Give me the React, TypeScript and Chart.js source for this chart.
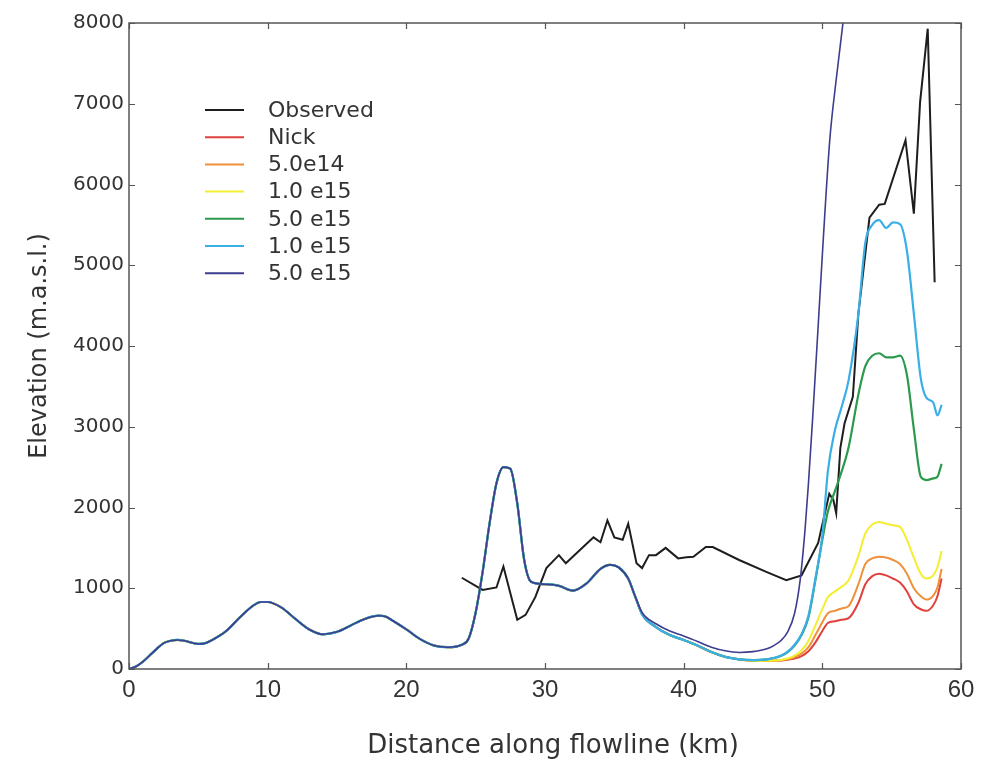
import React, { useEffect, useRef } from "react";
import { Chart, registerables } from "chart.js";

Chart.register(...registerables);

// ---------- labels / styles ----------
const seriesLabels = ["Observed", "Nick", "5.0e14", "1.0 e15", "5.0 e15", "1.0 e15", "5.0 e15"];
const seriesColors = ["#1e1e1e", "#e0403c", "#f0903a", "#f4ee30", "#2b9a4c", "#3aaee6", "#3e3c8e"];
const seriesWidths = [2, 2, 2, 2, 2.2, 2.2, 1.6];

const xTicks = [0, 10, 20, 30, 40, 50, 60];
const yTicks = [0, 1000, 2000, 3000, 4000, 5000, 6000, 7000, 8000];
const xTitle = "Distance along flowline (km)";
const yTitle = "Elevation (m.a.s.l.)";

// ---------- observed surface ----------
const observedKm = [24, 25.5, 26.5, 27, 28, 28.6, 29.3, 30.1, 31, 31.5, 32.5, 33.5, 34, 34.5, 35, 35.6, 36, 36.6, 37, 37.5, 38, 38.7, 39.6, 40.2, 40.7, 41.6, 42.1, 44, 46, 47.4, 48.5, 49.7, 50.5, 50.8, 51.0, 51.3, 51.6, 52.2, 52.6, 53.4, 54.1, 54.5, 56.0, 56.6, 57.05, 57.6, 58.1];
const observedElev = [1130, 980, 1010, 1270, 610, 670, 890, 1250, 1410, 1310, 1470, 1630, 1570, 1840, 1630, 1600, 1800, 1310, 1250, 1410, 1410, 1500, 1370, 1385, 1390, 1510, 1510, 1350, 1200, 1100, 1160, 1560, 2170, 2090, 1930, 2740, 3040, 3370, 4400, 5590, 5750, 5760, 6550, 5640, 7020, 7930, 4790];

// ---------- modelled profile shared by all runs (0-44 km) ----------
const sharedKm = [0, 0.5, 1, 1.5, 2, 2.5, 3, 3.5, 4, 5, 5.5, 6, 7, 8, 9, 9.5, 10, 11, 12, 13, 14, 15, 16, 17, 18, 18.5, 19, 20, 21, 22, 23, 24, 24.5, 25, 25.5, 26, 26.5, 27, 27.5, 28, 28.5, 29, 30, 31, 32, 33, 34, 34.7, 35.3, 36, 36.5, 37, 38, 39, 40, 41, 42, 43, 44];
const sharedElev = [0, 30, 90, 170, 250, 320, 350, 360, 350, 310, 320, 360, 470, 640, 790, 830, 830, 760, 620, 490, 430, 460, 540, 620, 660, 650, 600, 490, 370, 290, 270, 300, 380, 700, 1200, 1800, 2300, 2500, 2480, 2050, 1350, 1080, 1050, 1030, 970, 1060, 1240, 1290, 1260, 1120, 900, 680, 520, 420, 360, 290, 210, 150, 120];

// ---------- run-specific tails (45 km onwards) ----------
const tailKm = [45, 46, 47, 47.5, 48, 48.5, 49, 49.5, 50, 50.4, 50.9, 51.4, 51.9, 52.6, 53.1, 53.6, 54.1, 54.6, 55.1, 55.6, 56.1, 56.6, 57.1, 57.5, 58.0, 58.3, 58.6];
const nickTail = [100, 100, 105, 115, 130, 160, 220, 330, 470, 570, 590, 610, 630, 820, 1050, 1150, 1180, 1160, 1120, 1070, 960, 800, 740, 720, 790, 900, 1120];
const e14Tail = [100, 100, 108, 120, 145, 190, 270, 420, 580, 690, 720, 750, 780, 1050, 1300, 1370, 1390, 1380, 1350, 1300, 1180, 1000, 900, 860, 910, 1010, 1240];
const e15aTail = [100, 102, 112, 130, 165, 230, 350, 540, 740, 890, 960, 1020, 1100, 1400, 1680, 1790, 1820, 1800, 1780, 1760, 1600, 1380, 1180, 1120, 1160, 1260, 1460];
const e15bTail = [110, 120, 160, 210, 290, 420, 640, 1100, 1600, 1950, 2200, 2450, 2750, 3400, 3750, 3880, 3910, 3860, 3860, 3880, 3640, 2970, 2380, 2340, 2360, 2380, 2540];
const e15cTail = [110, 120, 165, 215, 300, 430, 660, 1120, 1650, 2450, 2950, 3250, 3580, 4400, 5280, 5500, 5560, 5460, 5530, 5510, 5180, 4400, 3600, 3360, 3300, 3140, 3270];

// last run departs from the shared profile at 37 km
const e15dKm = [37, 38, 39, 40, 41, 42, 43, 44, 45, 46, 46.5, 47, 47.5, 48, 48.4, 48.75, 49.0, 49.3, 49.7, 50.06, 50.54, 51.0, 51.48, 51.8];
const e15dElev = [700, 560, 470, 410, 340, 270, 225, 205, 215, 250, 290, 350, 460, 690, 1100, 1720, 2300, 3100, 4250, 5300, 6560, 7300, 7990, 8400];

function pts(kms: number[], vals: number[]) {
  return kms.map((k, i) => ({ x: k, y: vals[i] }));
}

const decorPlugin = {
  id: "decor",
  afterDraw(chart: any) {
    const { ctx, chartArea: a, scales } = chart;
    const xs = scales.x;
    const ys = scales.y;
    ctx.save();
    // frame
    ctx.strokeStyle = "#555";
    ctx.lineWidth = 1.5;
    ctx.strokeRect(a.left, a.top, a.right - a.left, a.bottom - a.top);
    // inward ticks
    ctx.lineWidth = 1.2;
    ctx.beginPath();
    for (const v of xTicks) {
      const px = Math.round(xs.getPixelForValue(v)) + 0.5;
      ctx.moveTo(px, a.bottom);
      ctx.lineTo(px, a.bottom - 6);
      ctx.moveTo(px, a.top);
      ctx.lineTo(px, a.top + 6);
    }
    for (const v of yTicks) {
      const py = Math.round(ys.getPixelForValue(v)) + 0.5;
      ctx.moveTo(a.left, py);
      ctx.lineTo(a.left + 6, py);
      ctx.moveTo(a.right, py);
      ctx.lineTo(a.right - 6, py);
    }
    ctx.stroke();
    // axis titles
    ctx.fillStyle = "#333";
    ctx.textAlign = "center";
    ctx.textBaseline = "alphabetic";
    ctx.font = "26px 'DejaVu Sans'";
    ctx.fillText(xTitle, (a.left + a.right) / 2 + 8, 753);
    ctx.save();
    ctx.translate(46, 346);
    ctx.rotate(-Math.PI / 2);
    ctx.font = "24px 'DejaVu Sans'";
    ctx.fillText(yTitle, 0, 0);
    ctx.restore();
    // legend
    ctx.font = "22px 'DejaVu Sans'";
    ctx.textAlign = "left";
    ctx.textBaseline = "middle";
    seriesLabels.forEach((lab, i) => {
      const y = 110 + i * 27.2;
      ctx.strokeStyle = seriesColors[i];
      ctx.lineWidth = 2;
      ctx.beginPath();
      ctx.moveTo(205, y);
      ctx.lineTo(244, y);
      ctx.stroke();
      ctx.fillStyle = "#333";
      ctx.fillText(lab, 268, y + 1);
    });
    ctx.restore();
  },
};

export default function App() {
  const ref = useRef<HTMLCanvasElement | null>(null);

  useEffect(() => {
    if (!ref.current) return;
    const simShared = pts(sharedKm, sharedElev);
    const tails = [nickTail, e14Tail, e15aTail, e15bTail, e15cTail];
    const seriesData: any[] = [pts(observedKm, observedElev)];
    tails.forEach((t) => seriesData.push(simShared.concat(pts(tailKm, t))));
    seriesData.push(simShared.filter((p) => p.x < 37).concat(pts(e15dKm, e15dElev)));

    const datasets = seriesData.map((d, i) => ({
      label: seriesLabels[i],
      data: d,
      borderColor: seriesColors[i],
      backgroundColor: seriesColors[i],
      borderWidth: seriesWidths[i],
      pointRadius: 0,
      fill: false,
      tension: i === 0 ? 0 : 0.4,
      cubicInterpolationMode: i === 0 ? "default" : "monotone",
      order: 10 - i,
    }));

    const chart = new Chart(ref.current, {
      type: "line",
      data: { datasets },
      options: {
        animation: false,
        responsive: false,
        layout: { padding: { left: 0, top: 23, right: 22, bottom: 0 } },
        plugins: { legend: { display: false }, tooltip: { enabled: false } },
        scales: {
          x: {
            type: "linear",
            min: 0,
            max: 60,
            grid: { display: false, drawTicks: false },
            border: { display: false },
            ticks: {
              color: "#333",
              padding: 7,
              maxRotation: 0,
              font: { family: "'Liberation Sans'", size: 24 },
              callback: (v: any) => String(v),
            },
            afterBuildTicks: (s: any) => {
              s.ticks = xTicks.map((v) => ({ value: v }));
            },
            afterFit: (s: any) => {
              s.height = 96;
            },
          },
          y: {
            type: "linear",
            min: 0,
            max: 8000,
            grid: { display: false, drawTicks: false },
            border: { display: false },
            ticks: {
              color: "#333",
              padding: 5,
              font: { family: "'DejaVu Sans'", size: 20 },
              callback: (v: any) => String(v),
            },
            afterBuildTicks: (s: any) => {
              s.ticks = yTicks.map((v) => ({ value: v }));
            },
            afterFit: (s: any) => {
              s.width = 129;
            },
          },
        },
      } as any,
      plugins: [decorPlugin],
    });
    return () => chart.destroy();
  }, []);

  return (
    <div style={{ position: "absolute", left: 0, top: 0, width: 983, height: 765, background: "#fff" }}>
      <canvas ref={ref} width={983} height={765} />
    </div>
  );
}
